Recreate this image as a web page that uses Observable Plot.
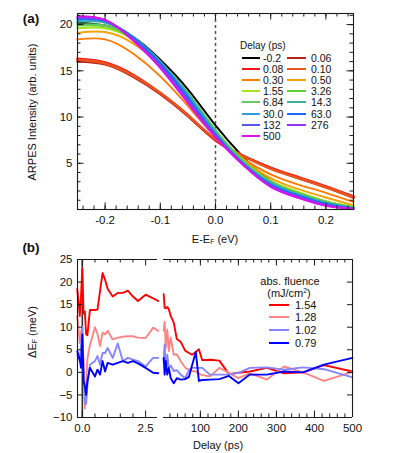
<!DOCTYPE html>
<html><head><meta charset="utf-8">
<script src="https://cdn.jsdelivr.net/npm/d3@7"></script>
<script src="https://cdn.jsdelivr.net/npm/@observablehq/plot@0.6"></script>
<style>
body{margin:0;background:#fff;font-family:"Liberation Sans",Arial,sans-serif;color:#111;}
#root{position:relative;width:394px;height:453px;overflow:hidden;background:#fff;}
.abs{position:absolute;white-space:nowrap;line-height:1;}
.c{transform:translate(-50%,-50%);}
.l{transform:translate(0,-50%);}
.sw{position:absolute;height:2px;}
sub{font-size:0.62em;vertical-align:-0.25em;}
sup{font-size:0.62em;vertical-align:0.55em;}
</style></head><body><div id="root"></div>
<script>
// ---------- Panel (a) data ----------
const energy = [-0.25,-0.2,-0.15,-0.1,-0.05,0,0.05,0.1,0.15,0.2,0.25];
const delayLabels = ["-0.2","0.06","0.08","0.10","0.30","0.50","1.55","3.26","6.84","14.3","30.0","63.0","132","276","500"];
const delayColors = ["#000000","#b8221c","#ff1414","#e8541e","#ff7a00","#f2a400","#a3e31c","#5cd22a","#66c966","#3fae9c","#2a9ce2","#1a68ff","#5656ec","#9933ee","#dd11ee"];
const int_m0_2 = [20.2,19.9,18.7,16.2,13.0,9.1,5.7,3.1,1.8,0.85,0.25];
const int_0_06 = [16.0,15.7,14.4,12.5,10.1,7.5,5.8,4.5,3.4,2.4,1.3];
const int_0_08 = [16.3,15.9,14.6,12.6,10.2,7.5,5.8,4.5,3.5,2.5,1.4];
const int_0_10 = [16.2,15.8,14.5,12.6,10.2,7.6,5.8,4.4,3.4,2.4,1.3];
const int_0_30 = [18.4,18.4,16.9,14.4,11.2,7.9,5.5,3.8,2.7,1.8,0.8];
const int_0_50 = [19.1,19.2,18.0,15.6,12.3,8.5,5.4,3.4,2.2,1.3,0.45];
const int_1_55 = [19.6,19.6,18.4,15.9,12.6,8.6,5.3,3.1,1.9,0.9,0.3];
const int_3_26 = [19.9,19.8,18.5,16.0,12.6,8.6,5.3,3.0,1.8,0.85,0.25];
const int_6_84 = [20.0,19.9,18.6,16.0,12.6,8.5,5.2,3.0,1.7,0.8,0.22];
const int_14_3 = [20.3,20.2,18.7,16.0,12.5,8.4,5.1,2.9,1.65,0.75,0.2];
const int_30_0 = [20.5,20.3,18.7,15.9,12.3,8.2,5.0,2.8,1.55,0.65,0.15];
const int_63_0 = [20.6,20.4,18.6,15.8,12.1,8.1,4.95,2.7,1.5,0.6,0.12];
const int_132 = [20.7,20.4,18.5,15.6,11.9,8.0,4.9,2.6,1.4,0.5,0.1];
const int_276 = [20.8,20.5,18.4,15.4,11.7,7.9,4.85,2.5,1.3,0.45,0.08];
const int_500 = [20.9,20.5,18.3,15.3,11.5,7.8,4.8,2.45,1.25,0.4,0.06];
const intensitySeries = [int_m0_2,int_0_06,int_0_08,int_0_10,int_0_30,int_0_50,int_1_55,int_3_26,int_6_84,int_14_3,int_30_0,int_63_0,int_132,int_276,int_500];
const energyTicks = [-0.2,-0.1,0,0.1,0.2];
const intensityTicks = [5,10,15,20];

// ---------- Panel (b) data ----------
const fluenceLabels = ["1.54","1.28","1.02","0.79"];
const fluenceColors = ["#ff0000","#ff8585","#8585ff","#0000ff"];
const delayEarly = [-0.2,-0.1,-0.05,0,0.05,0.1,0.15,0.2,0.3,0.5,0.6,0.7,0.8,0.9,1.0,1.2,1.4,1.6,1.8,2.0,2.2,2.5,2.8,3.0];
const shiftEarly_154 = [18.5,12.5,17,23,13,13.5,8.5,8.2,13.8,13.8,13.9,18,22,20.5,18.5,16.8,17.6,17.6,18.1,16.8,15.8,17.2,16.4,15.8];
const shiftEarly_128 = [12.5,6.5,9,10,2,-8,-3,3,6,10,8.5,5.8,8.8,8.4,9.2,7.3,7.7,7.9,8,8,7.7,7.6,9.9,9.2];
const shiftEarly_102 = [4,2.5,6,10,0,-6.5,-7,-3,1.7,2.5,3.6,1.7,4.3,4.3,5.4,3.2,6.4,2.5,3.2,2.8,2.5,1.3,3.2,3.2];
const shiftEarly_079 = [4.7,2.8,1,8.4,-2,-3,-5,-2,1,-0.9,0.6,-0.5,2.5,0.2,2.1,1.7,2.1,2.5,2.1,2.5,2.0,1.0,-0.1,-0.2];
const delayLate = [3.5,6,9,13,17,22,30,38,48,60,70,78,88,96,105,125,150,175,200,230,275,320,370,425,500];
const shiftLate_154 = [17.3,14.3,14.2,14.5,14,12.5,11,7.4,6.8,4.8,4.3,3.9,4.5,5.1,2.7,2.8,2.6,-0.4,-0.1,0.2,1.0,-0.2,0,1.6,0.2];
const shiftLate_128 = [9.2,11.2,5.4,9.5,4.7,7.7,3.9,4,2.5,1.0,0.6,0.3,0.2,-0.3,-0.6,-0.9,1.0,-0.1,-1.3,-0.2,-1.6,1.3,0,-1.9,0.1];
const shiftLate_102 = [2.5,6.2,0.3,3.9,1.0,1.5,0.3,0.5,-0.5,-1.3,0.5,1.0,1.0,1.0,1.0,-0.5,-0.5,-0.5,-0.1,1.0,1.1,0.6,1.1,0.7,-1.1];
const shiftLate_079 = [3.2,-0.5,2.5,-0.5,1.0,-1.3,-2.4,-1.3,-1.6,-1.5,-1.0,1.5,4.5,-1.9,-1.7,-1.6,-1.5,-0.8,-2.4,-0.5,-0.5,0.2,0,1.7,3.2];
const shiftEarly = [shiftEarly_154,shiftEarly_128,shiftEarly_102,shiftEarly_079];
const shiftLate = [shiftLate_154,shiftLate_128,shiftLate_102,shiftLate_079];
const shiftTicks = [-10,-5,0,5,10,15,20,25];
const earlyTicks = [0,2.5];
const lateTicks = [100,200,300,400,500];

// ---------- helpers ----------
const root = document.getElementById("root");
const FONT = "'Liberation Sans', Arial, sans-serif";
function place(node, x, y){ node.style.position="absolute"; node.style.left=x+"px"; node.style.top=y+"px"; node.style.overflow="hidden"; root.appendChild(node); }
function txt(html, x, y, cls, style){
  const d=document.createElement("div"); d.className="abs "+cls; d.innerHTML=html;
  d.style.left=x+"px"; d.style.top=y+"px"; Object.assign(d.style, style||{}); root.appendChild(d); return d;
}
function swatch(color, x1, x2, y){
  const d=document.createElement("div"); d.className="sw"; d.style.background=color;
  d.style.left=x1+"px"; d.style.width=(x2-x1)+"px"; d.style.top=(Math.round(y)-1)+"px"; root.appendChild(d);
}
const INK = "#1a1a1a";
function boxTicks(fw, fh, xs, ys, lenX, lenY, sides){
  const m=[];
  if(xs){ if(sides.includes("b")) m.push(Plot.tickX(xs,{x:d=>d,insetTop:fh-lenX,stroke:INK}));
          if(sides.includes("t")) m.push(Plot.tickX(xs,{x:d=>d,insetBottom:fh-lenX,stroke:INK})); }
  if(ys){ if(sides.includes("l")) m.push(Plot.tickY(ys,{y:d=>d,insetRight:fw-lenY,stroke:INK}));
          if(sides.includes("r")) m.push(Plot.tickY(ys,{y:d=>d,insetLeft:fw-lenY,stroke:INK})); }
  return m;
}

// ---------- Panel (a) ----------
{
  const W=394,H=250,mL=77,mR=41,mT=13,mB=41, fw=W-mL-mR, fh=H-mT-mB;
  const rows = (i)=> energy.map((e,j)=>({E:e, I:intensitySeries[i][j]}));
  const minorE = d3.range(-24,25,2).map(d=>d/100);
  const minorI = d3.range(1,22);
  const lines = intensitySeries.map((s,i)=>Plot.line(rows(i),{x:"E",y:"I",stroke:delayColors[i],
      strokeWidth: (i>=1&&i<=3)?2.6:1.9, curve:"natural"}));
  const p = Plot.plot({
    width:W,height:H,marginLeft:mL,marginRight:mR,marginTop:mT,marginBottom:mB,
    style:{fontFamily:FONT,fontSize:"11.5px",color:"#111",background:"transparent"},
    x:{domain:[-0.25,0.25]}, y:{domain:[0,21.2]},
    marks:[
      Plot.ruleX([0],{stroke:"#555",strokeWidth:1.5,strokeDasharray:"3,3"}),
      ...lines,
      Plot.frame({stroke:INK,strokeWidth:1.1}),
      ...boxTicks(fw,fh,minorE,minorI,3.5,3.5,"btlr"),
      ...boxTicks(fw,fh,energyTicks,intensityTicks,6.5,6.5,"btlr"),
      Plot.axisX({ticks:energyTicks,tickSize:0,tickPadding:6,tickFormat:d=>d.toFixed(1),label:null}),
      Plot.axisY({ticks:intensityTicks,tickSize:0,tickPadding:5,label:null})
    ]
  });
  place(p,0,0);
}

// ---------- Panel (b) ----------
const BT=250, BH=203, bmT=9, bmB=36, bfh=BH-bmT-bmB;
const bStyle={fontFamily:FONT,fontSize:"11.5px",color:"#111",background:"transparent"};
{
  const W=160,mL=77,mR=3, fw=W-mL-mR;
  const dom=[-0.19,2.97];
  const lines = shiftEarly.map((s,i)=>Plot.line(delayEarly.map((d,j)=>({t:d,v:s[j]})),{x:"t",y:"v",stroke:fluenceColors[i],strokeWidth:1.9}));
  const p = Plot.plot({
    width:W,height:BH,marginLeft:mL,marginRight:mR,marginTop:bmT,marginBottom:bmB,style:bStyle,
    x:{domain:dom}, y:{domain:[-10,25]},
    marks:[
      Plot.ruleX([0],{stroke:"#333",strokeWidth:1.6}),
      ...lines,
      Plot.ruleY([-10,25],{stroke:INK,strokeWidth:1.1}),
      Plot.ruleX([dom[0]],{stroke:INK,strokeWidth:1.1}),
      ...boxTicks(fw,bfh,[0.5,1,1.5,2],null,3.5,0,"bt"),
      ...boxTicks(fw,bfh,earlyTicks,shiftTicks,6.5,5,"btl"),
      Plot.axisX({ticks:earlyTicks,tickSize:0,tickPadding:6,tickFormat:d=>d.toFixed(1),label:null}),
      Plot.axisY({ticks:shiftTicks,tickSize:0,tickPadding:5,label:null})
    ]
  });
  place(p,0,BT);
}
{
  const W=234,mL=3,mR=42, fw=W-mL-mR;
  const dom=[3,500];
  const lines = shiftLate.map((s,i)=>Plot.line(delayLate.map((d,j)=>({t:d,v:s[j]})),{x:"t",y:"v",stroke:fluenceColors[i],strokeWidth:1.9}));
  const p = Plot.plot({
    width:W,height:BH,marginLeft:mL,marginRight:mR,marginTop:bmT,marginBottom:bmB,style:bStyle,
    x:{domain:dom}, y:{domain:[-10,25],axis:null},
    marks:[
      ...lines,
      Plot.ruleY([-10,25],{stroke:INK,strokeWidth:1.1}),
      Plot.ruleX([dom[1]],{stroke:INK,strokeWidth:1.1}),
      ...boxTicks(fw,bfh,d3.range(20,500,20),null,3.5,0,"bt"),
      ...boxTicks(fw,bfh,lateTicks,shiftTicks,6.5,5,"btr"),
      Plot.axisX({ticks:lateTicks,tickSize:0,tickPadding:6,label:null})
    ]
  });
  place(p,160,BT);
}

// ---------- Text ----------
txt("(a)",31,19,"c",{fontWeight:"bold",fontSize:"13.5px"});
txt("(b)",31,248,"c",{fontWeight:"bold",fontSize:"13.5px"});
txt("ARPES Intensity (arb. units)",32,112,"",{fontSize:"11px",transform:"translate(-50%,-50%) rotate(-90deg)"});
txt("&Delta;E<sub>F</sub> (meV)",33,332,"",{fontSize:"11px",transform:"translate(-50%,-50%) rotate(-90deg)"});
txt("E-E<sub>F</sub> (eV)",215,240,"c",{fontSize:"11px"});
txt("Delay (ps)",218,445,"c",{fontSize:"11px"});

// Legend (a)
txt("Delay (ps)",240,46,"l",{fontSize:"10px"});
const rowY=[58,69,80,91,102,114,125,136];
delayLabels.forEach((lab,i)=>{
  let c, r;
  if(i===0){c=0;r=0;} else if(i%2===1){c=1;r=(i-1)/2;} else {c=0;r=i/2;}
  const y=rowY[r];
  if(c===0){ swatch(delayColors[i],242,260,y); txt(lab,263,y,"l",{fontSize:"10.5px"}); }
  else { swatch(delayColors[i],287,306,y); txt(lab,311,y,"l",{fontSize:"10.5px"}); }
});

// Legend (b)
txt("abs. fluence",290,281,"c",{fontSize:"11px"});
txt("(mJ/cm<sup>2</sup>)",289,292.5,"c",{fontSize:"11px"});
const rowYb=[305,317,330,343];
fluenceLabels.forEach((lab,i)=>{
  swatch(fluenceColors[i],269,289,rowYb[i]);
  txt(lab,295,rowYb[i],"l",{fontSize:"11px"});
});
</script></body></html>
